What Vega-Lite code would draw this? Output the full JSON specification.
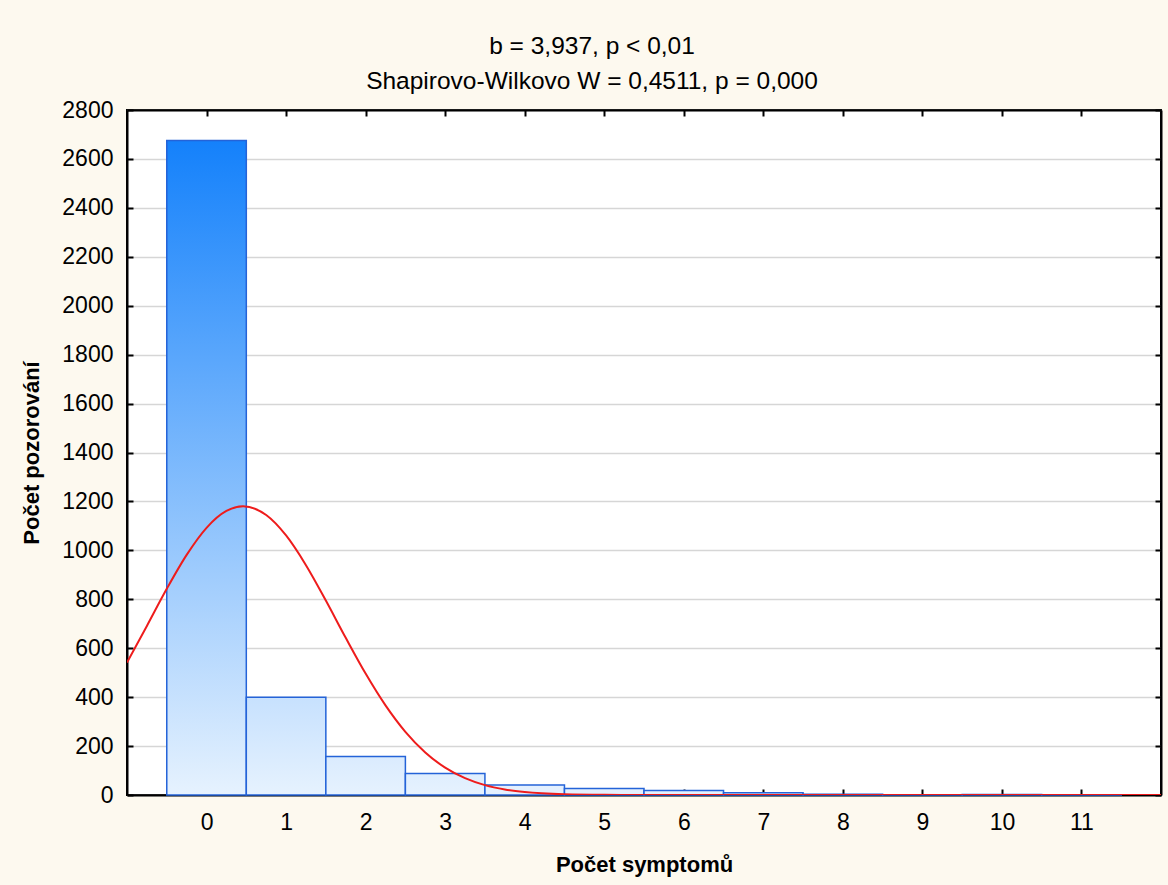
{
  "$schema": "https://vega.github.io/schema/vega-lite/v6.json",
  "width": 1034,
  "height": 685,
  "autosize": {"type": "none"},
  "padding": {"left": 127, "top": 110, "right": 7, "bottom": 90},
  "background": "#fdf9ef",
  "title": {
    "text": ["b = 3,937, p < 0,01", "Shapirovo-Wilkovo W = 0,4511, p = 0,000"],
    "anchor": "middle",
    "frame": "group",
    "dx": -52,
    "offset": 5,
    "font": "Liberation Sans",
    "fontSize": 24.5,
    "fontWeight": "normal",
    "lineHeight": 35,
    "color": "#000000"
  },
  "config": {
    "view": {"stroke": "#000000", "strokeWidth": 2, "fill": "#ffffff"},
    "axis": {
      "labelFont": "Liberation Sans",
      "labelFontSize": 23,
      "labelColor": "#000000",
      "titleFont": "Liberation Sans",
      "titleFontSize": 22,
      "titleFontWeight": "bold",
      "titleColor": "#000000",
      "domainColor": "#000000",
      "domainWidth": 2,
      "tickColor": "#000000",
      "tickWidth": 2,
      "tickSize": -6
    }
  },
  "datasets": {
    "bars": [
      {"symptoms": 0, "bin_start": -0.5, "bin_end": 0.5, "count": 2675},
      {"symptoms": 1, "bin_start": 0.5, "bin_end": 1.5, "count": 400},
      {"symptoms": 2, "bin_start": 1.5, "bin_end": 2.5, "count": 157},
      {"symptoms": 3, "bin_start": 2.5, "bin_end": 3.5, "count": 88},
      {"symptoms": 4, "bin_start": 3.5, "bin_end": 4.5, "count": 41},
      {"symptoms": 5, "bin_start": 4.5, "bin_end": 5.5, "count": 27},
      {"symptoms": 6, "bin_start": 5.5, "bin_end": 6.5, "count": 18},
      {"symptoms": 7, "bin_start": 6.5, "bin_end": 7.5, "count": 9},
      {"symptoms": 8, "bin_start": 7.5, "bin_end": 8.5, "count": 3},
      {"symptoms": 9, "bin_start": 8.5, "bin_end": 9.5, "count": 1},
      {"symptoms": 10, "bin_start": 9.5, "bin_end": 10.5, "count": 2},
      {"symptoms": 11, "bin_start": 10.5, "bin_end": 11.5, "count": 1}
    ],
    "normal": [
      {"x": -1, "expected": 541.6},
      {"x": -0.75, "expected": 691.2},
      {"x": -0.5, "expected": 842.8},
      {"x": -0.25, "expected": 981.5},
      {"x": 0, "expected": 1092.2},
      {"x": 0.25, "expected": 1161.1},
      {"x": 0.46, "expected": 1180},
      {"x": 0.75, "expected": 1144.3},
      {"x": 1, "expected": 1060.8},
      {"x": 1.25, "expected": 939.5},
      {"x": 1.5, "expected": 794.9},
      {"x": 1.75, "expected": 642.5},
      {"x": 2, "expected": 496.2},
      {"x": 2.25, "expected": 366.2},
      {"x": 2.5, "expected": 258.1},
      {"x": 2.75, "expected": 173.8},
      {"x": 3, "expected": 111.8},
      {"x": 3.25, "expected": 68.7},
      {"x": 3.5, "expected": 40.3},
      {"x": 3.75, "expected": 22.6},
      {"x": 4, "expected": 12.1},
      {"x": 4.5, "expected": 3.0},
      {"x": 5, "expected": 0.63},
      {"x": 5.5, "expected": 0.11},
      {"x": 6, "expected": 0.01},
      {"x": 7, "expected": 0},
      {"x": 8, "expected": 0},
      {"x": 9, "expected": 0},
      {"x": 10, "expected": 0},
      {"x": 11, "expected": 0},
      {"x": 12, "expected": 0}
    ]
  },
  "layer": [
    {
      "data": {"name": "bars"},
      "mark": {"type": "bar", "orient": "vertical", "stroke": "#2463d8", "strokeWidth": 1.5},
      "encoding": {
        "x": {
          "field": "bin_start",
          "type": "quantitative",
          "scale": {"domain": [-1, 12], "nice": false, "zero": false, "padding": 0},
          "axis": {
            "title": "Počet symptomů",
            "values": [0, 1, 2, 3, 4, 5, 6, 7, 8, 9, 10, 11],
            "format": "d",
            "grid": false,
            "labelPadding": 22,
            "titlePadding": 20
          }
        },
        "x2": {"field": "bin_end"},
        "y": {
          "field": "count",
          "type": "quantitative",
          "stack": null,
          "scale": {"domain": [0, 2800], "nice": false, "padding": 0},
          "axis": {
            "title": "Počet pozorování",
            "values": [0, 200, 400, 600, 800, 1000, 1200, 1400, 1600, 1800, 2000, 2200, 2400, 2600, 2800],
            "format": "d",
            "grid": true,
            "gridColor": "#d6d6d6",
            "gridWidth": 1.5,
            "labelPadding": 20,
            "titlePadding": 18
          }
        },
        "y2": {"datum": 0},
        "fill": {
          "condition": [
            {"test": "datum.count > 1000", "value": {"gradient": "linear", "x1": 0, "y1": 0, "x2": 0, "y2": 1, "stops": [{"offset": 0, "color": "#1481fb"}, {"offset": 1, "color": "#e6f2fe"}]}},
            {"test": "datum.count > 300", "value": {"gradient": "linear", "x1": 0, "y1": 0, "x2": 0, "y2": 1, "stops": [{"offset": 0, "color": "#c7e1fe"}, {"offset": 1, "color": "#e6f2fe"}]}},
            {"test": "datum.count > 120", "value": {"gradient": "linear", "x1": 0, "y1": 0, "x2": 0, "y2": 1, "stops": [{"offset": 0, "color": "#daebfe"}, {"offset": 1, "color": "#e6f2fe"}]}},
            {"test": "datum.count > 60", "value": {"gradient": "linear", "x1": 0, "y1": 0, "x2": 0, "y2": 1, "stops": [{"offset": 0, "color": "#dfeefe"}, {"offset": 1, "color": "#e6f2fe"}]}}
          ],
          "value": "#e4f0fe"
        }
      }
    },
    {
      "data": {"name": "normal"},
      "mark": {"type": "line", "color": "#ee1c1c", "strokeWidth": 2, "interpolate": "monotone", "clip": true},
      "encoding": {
        "x": {
          "field": "x",
          "type": "quantitative",
          "axis": {"orient": "top", "title": null, "labels": false, "grid": false, "values": [0, 1, 2, 3, 4, 5, 6, 7, 8, 9, 10, 11]}
        },
        "y": {
          "field": "expected",
          "type": "quantitative",
          "axis": {"orient": "right", "title": null, "labels": false, "grid": false, "values": [0, 200, 400, 600, 800, 1000, 1200, 1400, 1600, 1800, 2000, 2200, 2400, 2600, 2800]}
        }
      }
    }
  ],
  "resolve": {"axis": {"x": "independent", "y": "independent"}}
}
